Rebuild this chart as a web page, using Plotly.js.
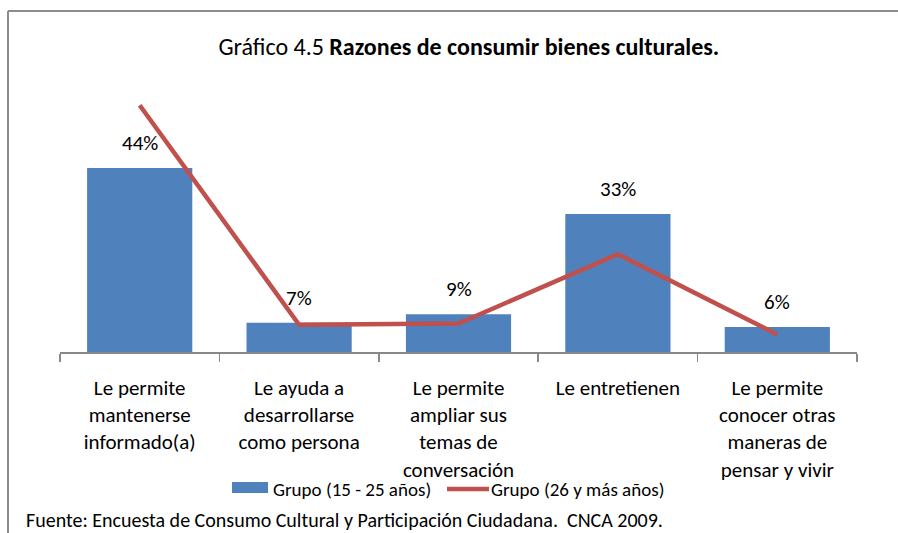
<!DOCTYPE html>
<html>
<head>
<meta charset="utf-8">
<script src="https://cdn.plot.ly/plotly-3.0.1.min.js"></script>
<style>html,body{margin:0;padding:0;background:#fff}#chart{width:898px;height:533px}</style>
</head>
<body>
<div id="chart"></div>
<script>
const categories = [
  "Le permite<br>mantenerse<br>informado(a)",
  "Le ayuda a<br>desarrollarse<br>como persona",
  "Le permite<br>ampliar sus<br>temas de<br>conversación",
  "Le entretienen",
  "Le permite<br>conocer otras<br>maneras de<br>pensar y vivir"
];
const grupoJoven = [44, 7, 9, 33, 6];
const grupoJovenLabels = ["44%", "7%", "9%", "33%", "6%"];
const grupoAdulto = [59, 6.5, 6.8, 23.4, 4.2];
const seriesNames = ["Grupo (15 - 25 años)", "Grupo (26 y más años)"];
const seriesColors = ["#4F81BD", "#C0504D"];

const FONT = "Carlito, 'Liberation Sans Narrow', 'DejaVu Sans Condensed', sans-serif";

// pixel -> paper helpers (plot area: x 60..857, y 90..352)
const PX = px => (px - 60) / 797;
const PY = py => (352 - py) / 262;

const traces = [
  {
    type: "bar", x: categories, y: grupoJoven, name: seriesNames[0],
    marker: {color: seriesColors[0]}, hoverinfo: "skip", showlegend: false
  },
  {
    type: "scatter", mode: "lines", x: categories, y: grupoAdulto, name: seriesNames[1],
    line: {color: seriesColors[1], width: 4.5}, hoverinfo: "skip", showlegend: false
  }
];

const annotations = categories.map((c, i) => ({
  x: c, y: grupoJoven[i], xref: "x", yref: "y",
  text: grupoJovenLabels[i], showarrow: false,
  yanchor: "bottom", yshift: 10,
  font: {family: FONT, size: 21, color: "#000"}
}));
annotations.push({
  xref: "paper", yref: "paper", x: PX(24), y: PY(520),
  xanchor: "left", yanchor: "middle", showarrow: false,
  text: "Fuente: Encuesta de Consumo Cultural y Participación Ciudadana.  CNCA 2009.",
  font: {family: FONT, size: 20, color: "#000"}
});
// legend labels
annotations.push({
  xref: "paper", yref: "paper", x: PX(271), y: PY(490),
  xanchor: "left", yanchor: "middle", showarrow: false,
  text: seriesNames[0], font: {family: FONT, size: 19, color: "#000"}
});
annotations.push({
  xref: "paper", yref: "paper", x: PX(489), y: PY(490),
  xanchor: "left", yanchor: "middle", showarrow: false,
  text: seriesNames[1], font: {family: FONT, size: 19, color: "#000"}
});

const shapes = [
  {type: "line", xref: "paper", yref: "paper",
   x0: PX(8), x1: PX(898), y0: PY(11), y1: PY(11),
   line: {color: "#8c8c8c", width: 2}},
  {type: "line", xref: "paper", yref: "paper",
   x0: PX(8), x1: PX(8), y0: PY(11), y1: PY(540),
   line: {color: "#8c8c8c", width: 2}},
  // legend swatches
  {type: "rect", xref: "paper", yref: "paper",
   x0: PX(232), x1: PX(268), y0: PY(482), y1: PY(493),
   fillcolor: seriesColors[0], line: {width: 0}},
  {type: "line", xref: "paper", yref: "paper",
   x0: PX(447), x1: PX(489), y0: PY(489), y1: PY(489),
   line: {color: seriesColors[1], width: 4.5}}
];

const layout = {
  width: 898, height: 533,
  margin: {l: 60, r: 41, t: 90, b: 181},
  paper_bgcolor: "#fff", plot_bgcolor: "#fff",
  font: {family: FONT, size: 21, color: "#000"},
  title: {
    text: "Gráfico 4.5 <b>Razones de consumir bienes culturales.</b>",
    font: {family: FONT, size: 24, color: "#000"},
    xref: "paper", x: 0.513, xanchor: "center",
    yref: "container", y: 1 - 47 / 533, yanchor: "middle"
  },
  bargap: 0.34,
  showlegend: false,
  xaxis: {
    type: "category", showline: true, linecolor: "#888", linewidth: 1.5,
    ticks: "outside", tickson: "boundaries", ticklen: 8, tickcolor: "#888", tickwidth: 1.5,
    ticklabelstandoff: 16,
    showgrid: false, tickfont: {family: FONT, size: 21, color: "#000"}, fixedrange: true
  },
  yaxis: {
    range: [0, 62.65], showticklabels: false, showgrid: false, zeroline: false,
    showline: false, ticks: "", fixedrange: true
  },
  annotations: annotations,
  shapes: shapes
};

Plotly.newPlot("chart", traces, layout, {displayModeBar: false, staticPlot: true});
</script>
</body>
</html>
